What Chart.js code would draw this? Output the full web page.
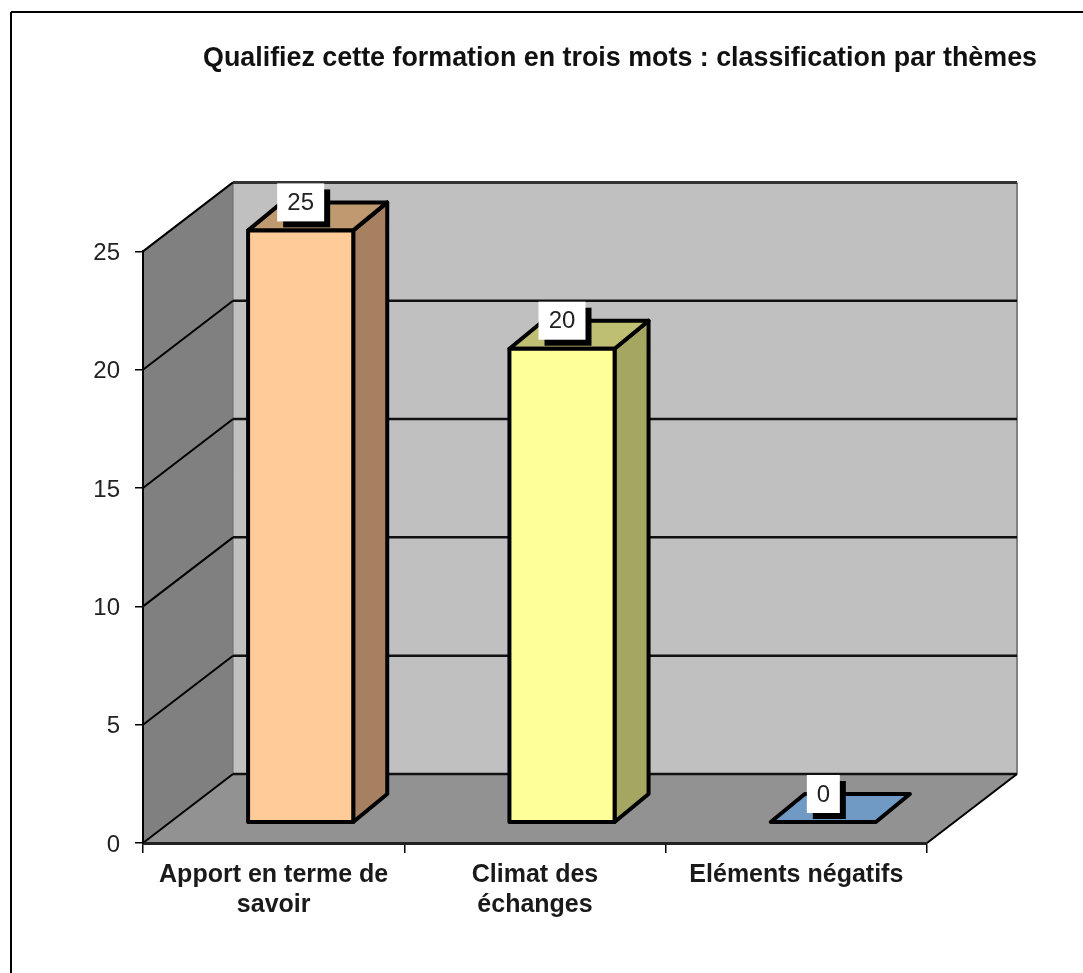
<!DOCTYPE html>
<html lang="fr">
<head>
<meta charset="utf-8">
<title>Qualifiez cette formation en trois mots</title>
<style>html,body{margin:0;padding:0;background:#fff}canvas{display:block}</style>
<script src="https://cdn.jsdelivr.net/npm/chart.js@4/dist/chart.umd.js"></script>
</head>
<body>
<canvas id="c" width="1083" height="973"></canvas>
<script>
const chartTitle = "Qualifiez cette formation en trois mots : classification par thèmes";
const categories = [["Apport en terme de", "savoir"], ["Climat des", "échanges"], ["Eléments négatifs"]];
const values = [25, 20, 0];
const frontColors = ["#FFCC99", "#FFFF99", "#6699CC"];
const topColors = ["#BF996F", "#BFBF73", "#7099C4"];
const sideColors = ["#A68060", "#A6A663", "#5F85AD"];

const FONT = "'Liberation Sans', Arial, sans-serif";
const WALL = {dx: 90, dy: -69};      // depth of the 3D box
const BAR_NEAR = {dx: 27, dy: -21};  // front face of the bars inside the box
const BAR_DEPTH = {dx: 34, dy: -28};

function poly(ctx, pts, fill, stroke, lw) {
  ctx.beginPath();
  pts.forEach((p, i) => i ? ctx.lineTo(p[0], p[1]) : ctx.moveTo(p[0], p[1]));
  ctx.closePath();
  if (fill) { ctx.fillStyle = fill; ctx.fill(); }
  if (stroke) { ctx.strokeStyle = stroke; ctx.lineWidth = lw; ctx.lineJoin = "round"; ctx.stroke(); }
}
function seg(ctx, x1, y1, x2, y2, color, lw) {
  ctx.beginPath(); ctx.moveTo(x1, y1); ctx.lineTo(x2, y2);
  ctx.strokeStyle = color; ctx.lineWidth = lw; ctx.stroke();
}

const box3d = {
  id: "box3d",
  afterLayout(chart) {
    chart.titleBlock.left = 203;
    chart.titleBlock.right = 1037;
  },
  beforeDraw(chart) {
    const ctx = chart.ctx, ya = chart.scales.y, a = chart.chartArea;
    const L = a.left, R = a.right, B = ya.getPixelForValue(0), T = ya.getPixelForValue(25);
    const dx = WALL.dx, dy = WALL.dy;
    ctx.save();
    // frame of the picture
    seg(ctx, 11, 12, 1083, 12, "#000", 2);
    seg(ctx, 11, 12, 11, 973, "#000", 2);
    // walls and floor
    poly(ctx, [[L + dx, T + dy], [R + dx, T + dy], [R + dx, B + dy], [L + dx, B + dy]], "#C0C0C0");
    poly(ctx, [[L, B], [L + dx, B + dy], [L + dx, T + dy], [L, T]], "#808080");
    poly(ctx, [[L, B], [R, B], [R + dx, B + dy], [L + dx, B + dy]], "#929292");
    seg(ctx, R + dx, T + dy, R + dx, B + dy, "#808080", 2);
    seg(ctx, L + dx, T + dy, L + dx, B + dy, "#6a6a6a", 1);
    // gridlines, running along the side wall then the back wall
    ya.ticks.forEach(t => {
      const y = ya.getPixelForValue(t.value);
      const top = t.value === 25;
      seg(ctx, L, y, L + dx, y + dy, "#000", 2);
      seg(ctx, L + dx, y + dy, R + dx, y + dy, top ? "#333" : "#111", top ? 3 : 2.5);
    });
    seg(ctx, R, B, R + dx, B + dy, "#000", 2);
    ctx.restore();
  },
  beforeDatasetsDraw(chart) {
    const ctx = chart.ctx, ya = chart.scales.y;
    ctx.save();
    chart.getDatasetMeta(0).data.forEach((el, i) => {
      const l = el.x - el.width / 2 + BAR_NEAR.dx, r = l + el.width;
      const t = el.y + BAR_NEAR.dy, b = ya.getPixelForValue(0) + BAR_NEAR.dy;
      const d = BAR_DEPTH;
      if (b - t > 1) poly(ctx, [[r, t], [r + d.dx, t + d.dy], [r + d.dx, b + d.dy], [r, b]], sideColors[i], "#000", 4);
      poly(ctx, [[l, t], [r, t], [r + d.dx, t + d.dy], [l + d.dx, t + d.dy]], topColors[i], "#000", 4);
      // shadow of the value label
      const cx = l + el.width / 2, cy = t - 28;
      const w = String(values[i]).length > 1 ? 47 : 33;
      ctx.fillStyle = "#000";
      ctx.fillRect(cx - w / 2 + 6, cy - 13, w, 38);
    });
    ctx.restore();
  },
  beforeDatasetDraw(chart) {
    chart.ctx.save();
    chart.ctx.translate(BAR_NEAR.dx, BAR_NEAR.dy);
  },
  afterDatasetDraw(chart) {
    chart.ctx.restore();
  },
  afterDatasetsDraw(chart) {
    const ctx = chart.ctx, ya = chart.scales.y;
    ctx.save();
    chart.getDatasetMeta(0).data.forEach((el, i) => {
      const l = el.x - el.width / 2 + BAR_NEAR.dx, r = l + el.width;
      const t = el.y + BAR_NEAR.dy, b = ya.getPixelForValue(0) + BAR_NEAR.dy;
      if (b - t > 1) poly(ctx, [[l, t], [r, t], [r, b], [l, b]], null, "#000", 4);
      const cx = l + el.width / 2, cy = t - 28;
      const txt = String(values[i]);
      const w = txt.length > 1 ? 47 : 33;
      ctx.fillStyle = "#fff";
      ctx.fillRect(cx - w / 2, cy - 19, w, 38);
      ctx.fillStyle = "#222";
      ctx.font = "24px " + FONT;
      ctx.textAlign = "center";
      ctx.textBaseline = "middle";
      ctx.fillText(txt, cx, cy + 1);
    });
    ctx.restore();
  }
};

new Chart(document.getElementById("c"), {
  type: "bar",
  plugins: [box3d],
  data: {
    labels: categories,
    datasets: [{
      data: values,
      backgroundColor: frontColors,
      borderWidth: 0,
      categoryPercentage: 1,
      barPercentage: 105 / 261,
      clip: false
    }]
  },
  options: {
    responsive: false,
    animation: false,
    events: [],
    layout: {padding: {left: 0, right: 156, top: 0, bottom: 0}},
    plugins: {
      legend: {display: false},
      tooltip: {enabled: false},
      title: {
        display: true,
        text: chartTitle,
        color: "#111",
        font: {family: FONT, size: 27, weight: "bold"},
        padding: {top: 42, bottom: 177}
      }
    },
    scales: {
      x: {
        afterFit(s) { s.height = 130; },
        grid: {drawOnChartArea: false, color: "#000", lineWidth: 1.5, tickLength: 10},
        border: {display: true, color: "#222", width: 3},
        ticks: {
          color: "#1a1a1a",
          padding: 7,
          maxRotation: 0,
          font: {family: FONT, size: 25, weight: "bold", lineHeight: 1.2}
        }
      },
      y: {
        min: 0,
        max: 25,
        afterFit(s) { s.width = 143; },
        grid: {drawOnChartArea: false, color: "#000", lineWidth: 1.5, tickLength: 8},
        border: {display: true, color: "#000", width: 2},
        ticks: {
          stepSize: 5,
          color: "#222",
          padding: 15,
          labelOffset: 2,
          font: {family: FONT, size: 24}
        }
      }
    }
  }
});
</script>
</body>
</html>
